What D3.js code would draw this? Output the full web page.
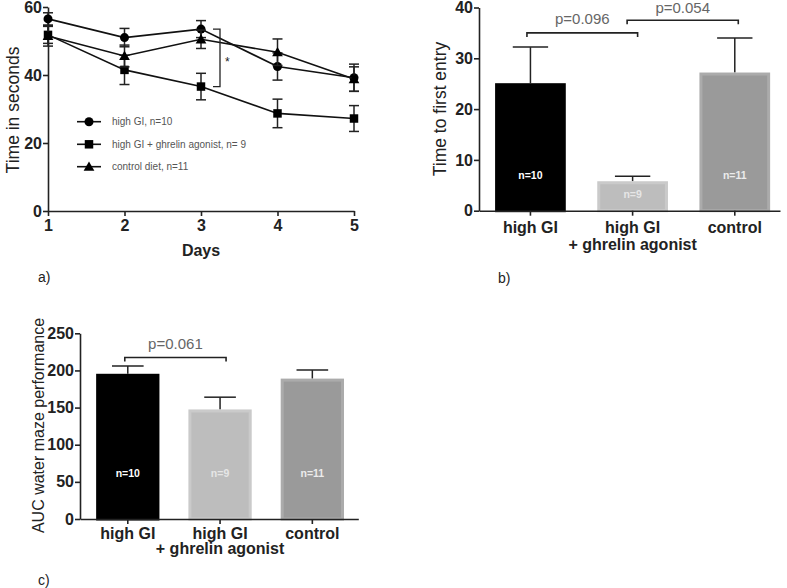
<!DOCTYPE html>
<html>
<head>
<meta charset="utf-8">
<script src="https://cdn.jsdelivr.net/npm/d3@7"></script>
<style>
  body { margin: 0; background: #fff; }
  svg { display: block; font-family: "Liberation Sans", Arial, sans-serif; }
</style>
</head>
<body>
<div id="chart"></div>
<script>
"use strict"

// panel a: time in seconds per day
const days = [1, 2, 3, 4, 5];
const seriesNames = ["high GI, n=10", "high GI + ghrelin agonist, n= 9", "control diet, n=11"];
const highGI = [56.5, 51.0, 53.5, 42.5, 39.2];
const highGIErr = [1.8, 2.7, 2.5, 4.0, 4.0];
const ghrelin = [51.8, 41.5, 36.6, 28.7, 27.2];
const ghrelinErr = [2.5, 4.3, 3.9, 4.2, 3.8];
const control = [51.5, 45.6, 50.5, 46.7, 38.8];
const controlErr = [3.0, 3.2, 2.7, 3.9, 3.6];
const ticksA = [0, 20, 40, 60];

// panels b and c: groups
const groups = ["high GI", "high GI\n+ ghrelin agonist", "control"];
const nLabels = ["n=10", "n=9", "n=11"];
const entryMean = [25.1, 5.8, 27.2];
const entryErr = [7.1, 1.0, 6.8];
const ticksB = [0, 10, 20, 30, 40];
const aucMean = [195.5, 147.5, 189.0];
const aucErr = [10.5, 16.5, 11.5];
const ticksC = [0, 50, 100, 150, 200, 250];

// p-value brackets: [from group, to group, level, label]
const bracketsB = [[0, 1, 35.0, "p=0.096"], [1, 2, 37.5, "p=0.054"]];
const bracketsC = [[0, 1, 217.5, "p=0.061"]];

const barFill = ["#000000", "#bdbdbd", "#9a9a9a"];
const barEdge = ["#000000", "#cacaca", "#ababab"];
const nColor = ["#ffffff", "#e6e6e6", "#ececec"];
const ink = "#222";

const svg = (
  d3.select("#chart")
    .append("svg")
    .attr("width", 787)
    .attr("height", 588));

function styleAxis(g) {
  g.select(".domain").attr("stroke", ink).attr("stroke-width", 1.6);
  g.selectAll(".tick line").attr("stroke", ink).attr("stroke-width", 1.6);
  g.selectAll(".tick text")
    .attr("fill", ink)
    .style("font-size", "16px")
    .style("font-weight", "bold")
    .style("font-family", "'Liberation Sans', Arial, sans-serif");
}

function yTitle(x, y, text, size) {
  svg.append("text")
    .attr("transform", `translate(${x},${y}) rotate(-90)`)
    .attr("text-anchor", "middle")
    .attr("fill", ink)
    .style("font-size", size + "px")
    .text(text);
}

function panelLabel(x, y, text) {
  svg.append("text")
    .attr("x", x).attr("y", y)
    .attr("fill", ink)
    .style("font-size", "14px")
    .text(text);
}

// ---------- panel a ----------
const xA = d3.scaleLinear().domain([1, 5]).range([48, 354]);
const yA = d3.scaleLinear().domain([0, 60]).range([211, 7]);

svg.append("g")
  .attr("transform", `translate(0,${yA(0)})`)
  .call(d3.axisBottom(xA).tickValues(days).tickFormat(d3.format("d"))
    .tickSize(5).tickSizeOuter(0).tickPadding(4))
  .call(styleAxis);

svg.append("g")
  .attr("transform", `translate(${xA(1)},0)`)
  .call(d3.axisLeft(yA).tickValues(ticksA).tickSize(5).tickSizeOuter(0).tickPadding(1))
  .call(styleAxis);

yTitle(18.5, 110, "Time in seconds", 17.5);

svg.append("text")
  .attr("x", (xA(1) + xA(5)) / 2).attr("y", 256)
  .attr("text-anchor", "middle")
  .attr("fill", ink)
  .style("font-size", "16px")
  .style("font-weight", "bold")
  .text("Days");

panelLabel(38, 282, "a)");

const series = [
  {name: seriesNames[0], values: highGI, err: highGIErr, shape: "circle"},
  {name: seriesNames[1], values: ghrelin, err: ghrelinErr, shape: "square"},
  {name: seriesNames[2], values: control, err: controlErr, shape: "triangle"},
];

const symbols = {
  circle: d3.symbol(d3.symbolCircle, 64),
  square: d3.symbol(d3.symbolSquare, 72),
  triangle: d3.symbol(d3.symbolTriangle, 50),
};

const line = d3.line()
  .x((d, i) => xA(days[i]))
  .y((d) => yA(d));

series.forEach((s) => {
  // Draw error bars
  const eg = svg.append("g").attr("stroke", ink).attr("stroke-width", 1.5);
  s.values.forEach((v, i) => {
    const x = xA(days[i]);
    eg.append("line").attr("x1", x).attr("x2", x)
      .attr("y1", yA(v - s.err[i])).attr("y2", yA(v + s.err[i]));
    [v - s.err[i], v + s.err[i]].forEach((e) => {
      eg.append("line").attr("x1", x - 5).attr("x2", x + 5)
        .attr("y1", yA(e)).attr("y2", yA(e));
    });
  });

  // Draw line
  svg.append("path")
    .datum(s.values)
    .attr("d", line)
    .attr("fill", "none")
    .attr("stroke", "#111")
    .attr("stroke-width", 1.6);

  // Draw markers
  (svg
    .selectAll(null)
      .data(s.values)
    .enter()
      .append("path")
        .attr("d", symbols[s.shape])
        .attr("transform", (d, i) => `translate(${xA(days[i])},${yA(d) + (s.shape == "triangle" ? 1 : 0)})`)
        .attr("fill", "#000")
  );
});

// significance bracket day 3
{
  const bx = xA(3) + 19;
  const y1 = yA(highGI[2]);
  const y2 = yA(ghrelin[2]);
  svg.append("path")
    .attr("d", `M${bx - 7},${y1}H${bx}V${y2}H${bx - 7}`)
    .attr("fill", "none")
    .attr("stroke", ink)
    .attr("stroke-width", 1.3);
  svg.append("text")
    .attr("x", bx + 5).attr("y", (y1 + y2) / 2 + 8)
    .attr("fill", ink)
    .style("font-size", "12px")
    .text("*");
}

// legend
const legendY = [121.7, 144.3, 166.7];
series.forEach((s, i) => {
  const g = svg.append("g").attr("transform", `translate(89,${legendY[i]})`);
  g.append("line").attr("x1", -12).attr("x2", 12).attr("stroke", "#111").attr("stroke-width", 1.6);
  g.append("path").attr("d", symbols[s.shape]).attr("fill", "#000")
    .attr("transform", s.shape == "triangle" ? "translate(0,1)" : null);
  g.append("text")
    .attr("x", 23).attr("y", 3.6)
    .attr("fill", "#555")
    .style("font-size", "10px")
    .text(s.name);
});

// ---------- bar panels ----------
function barPanel({means, errs, ticks, x, y, brackets, labelBase, labelGap, nGap, offsets}) {
  const base = y(0);
  const bw = x.bandwidth();
  const cx = (i) => x(groups[i]) + bw / 2;

  // Draw error whiskers
  means.forEach((m, i) => {
    const c = cx(i);
    svg.append("line").attr("x1", c).attr("x2", c)
      .attr("y1", y(m)).attr("y2", y(m + errs[i]))
      .attr("stroke", ink).attr("stroke-width", 1.5);
    svg.append("line").attr("x1", c - bw / 4).attr("x2", c + bw / 4)
      .attr("y1", y(m + errs[i])).attr("y2", y(m + errs[i]))
      .attr("stroke", ink).attr("stroke-width", 1.5);
  });

  // Draw bars
  (svg
    .selectAll(null)
      .data(means)
    .enter()
      .append("rect")
        .attr("x", (d, i) => x(groups[i]) + 1.5)
        .attr("y", (d) => y(d) + 1.5)
        .attr("width", bw - 3)
        .attr("height", (d) => base - y(d) - 1.5)
        .attr("fill", (d, i) => barFill[i])
        .attr("stroke", (d, i) => barEdge[i])
        .attr("stroke-width", 3)
  );

  // Draw n labels
  (svg
    .selectAll(null)
      .data(means)
    .enter()
      .append("text")
        .attr("x", (d, i) => cx(i))
        .attr("y", (d) => Math.max(y(d) + 17, base - nGap))
        .attr("text-anchor", "middle")
        .attr("fill", (d, i) => nColor[i])
        .style("font-size", "10.5px")
        .style("font-weight", "bold")
        .text((d, i) => nLabels[i])
  );

  // Axes
  svg.append("g")
    .attr("transform", `translate(0,${base})`)
    .call(d3.axisBottom(x).tickSize(5).tickSizeOuter(0).tickFormat(""))
    .call(styleAxis);

  svg.append("g")
    .attr("transform", `translate(${x.range()[0]},0)`)
    .call(d3.axisLeft(y).tickValues(ticks).tickSize(5).tickSizeOuter(0).tickPadding(1))
    .call(styleAxis);

  // Category labels
  groups.forEach((g, i) => {
    const t = svg.append("text")
      .attr("text-anchor", "middle")
      .attr("fill", ink)
      .style("font-size", "16px")
      .style("font-weight", "bold");
    g.split("\n").forEach((part, k) => {
      t.append("tspan")
        .attr("x", cx(i))
        .attr("y", base + labelBase + k * labelGap)
        .text(part);
    });
  });

  // p-value brackets
  brackets.forEach(([a, b, level, label], k) => {
    const x1 = cx(a) + offsets[k][0];
    const x2 = cx(b) + offsets[k][1];
    const by = y(level);
    svg.append("path")
      .attr("d", `M${x1},${by + 4}V${by}H${x2}V${by + 4}`)
      .attr("fill", "none")
      .attr("stroke", ink)
      .attr("stroke-width", 1.6);
    svg.append("text")
      .attr("x", (x1 + x2) / 2).attr("y", Math.max(by - 8.5, 12.5))
      .attr("text-anchor", "middle")
      .attr("fill", "#666")
      .style("font-size", "15px")
      .text(label);
  });
}

// ---------- panel b ----------
const xB = d3.scaleBand().domain(groups).range([479, 780])
  .paddingInner(0.308).paddingOuter(0.127).align(0.62);
const yB = d3.scaleLinear().domain([0, 40]).range([210.7, 7.5]);

barPanel({means: entryMean, errs: entryErr, ticks: ticksB, x: xB, y: yB,
          brackets: bracketsB, labelBase: 22.5, labelGap: 16.5, nGap: 32,
          offsets: [[-3.5, 5], [-5.5, 3.5]]});
yTitle(445.5, 109, "Time to first entry", 17.5);
panelLabel(498, 283, "b)");

// ---------- panel c ----------
const xC = d3.scaleBand().domain(groups).range([80, 358.3])
  .paddingInner(0.314).paddingOuter(0.165).align(0.53);
const yC = d3.scaleLinear().domain([0, 250]).range([519, 333.3]);

barPanel({means: aucMean, errs: aucErr, ticks: ticksC, x: xC, y: yC,
          brackets: bracketsC, labelBase: 19.5, labelGap: 15.5, nGap: 42,
          offsets: [[-3, 6]]});
yTitle(44, 425.5, "AUC water maze performance", 16);
panelLabel(38, 585, "c)");
</script>
</body>
</html>
